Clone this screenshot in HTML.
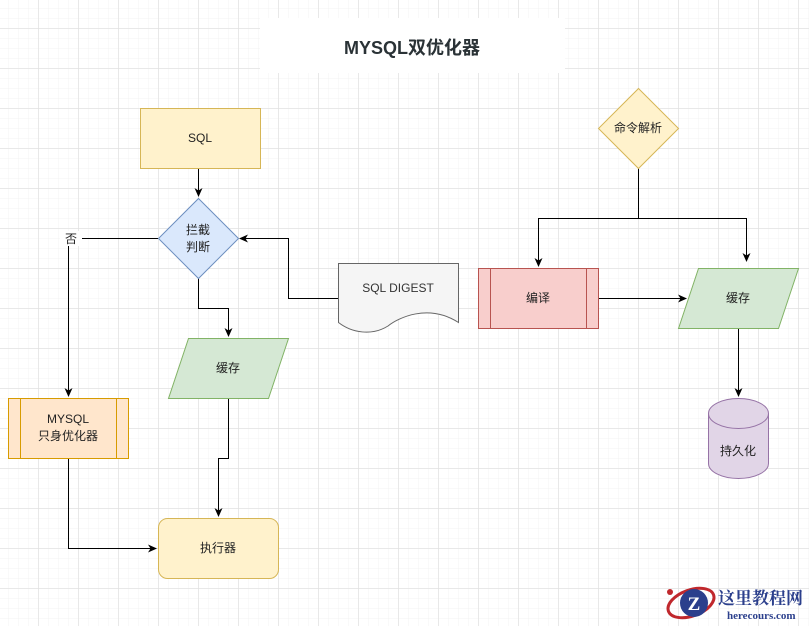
<!DOCTYPE html>
<html><head><meta charset="utf-8"><style>
body{margin:0;width:809px;height:626px;overflow:hidden;background:#fff;}
svg text{font-family:"Liberation Sans","Noto Sans CJK SC",sans-serif;font-size:12px;fill:#222;}
</style></head><body>
<svg width="809" height="626" xmlns="http://www.w3.org/2000/svg">
<defs>
<pattern id="minor" width="10" height="10" patternUnits="userSpaceOnUse" x="8" y="8">
<path d="M0 0H10M0 0V10" stroke="#f3f3f3" stroke-width="1" fill="none"/></pattern>
<pattern id="major" width="40" height="40" patternUnits="userSpaceOnUse" x="38.5" y="28.5">
<path d="M0 0H40M0 0V40" stroke="#dedede" stroke-width="1" fill="none"/></pattern>
<marker id="a" markerWidth="10" markerHeight="10" refX="8" refY="5" orient="auto" markerUnits="userSpaceOnUse">
<path d="M0 1L9 5L0 9L2.5 5Z" fill="#000"/></marker>
</defs>
<rect width="809" height="626" fill="url(#minor)"/>
<rect width="809" height="626" fill="url(#major)"/>
<rect x="260" y="18" width="305" height="55" fill="#fff"/>
<text x="412" y="54" text-anchor="middle" style="font-size:18px;font-weight:bold;fill:#2a3236">MYSQL双优化器</text>

<g fill="none" stroke="#000" stroke-width="1">
<path d="M198.5 168V196" marker-end="url(#a)"/>
<path d="M158 238.5H68.5V396" marker-end="url(#a)"/>
<path d="M198.5 278V308.5H228.5V336" marker-end="url(#a)"/>
<path d="M228.5 398V458.5H218.5V516" marker-end="url(#a)"/>
<path d="M68.5 458V548.5H156" marker-end="url(#a)"/>
<path d="M338 298.5H288.5V238.5H240" marker-end="url(#a)"/>
<path d="M638.5 168V218.5H538.5V266" marker-end="url(#a)"/>
<path d="M638.5 218.5H746.5V261" marker-end="url(#a)"/>
<path d="M598 298.5H686" marker-end="url(#a)"/>
<path d="M738.5 328V396" marker-end="url(#a)"/>
</g>
<rect x="60" y="231" width="22" height="15" fill="#fff"/>
<text x="71" y="243" text-anchor="middle">否</text>

<rect x="140.5" y="108.5" width="120" height="60" fill="#fff2cc" stroke="#d6b656"/>
<text x="200" y="142" text-anchor="middle">SQL</text>

<path d="M198.5 198.5L238.5 238.5L198.5 278.5L158.5 238.5Z" fill="#dae8fc" stroke="#6c8ebf"/>
<text x="198" y="234" text-anchor="middle">拦截</text>
<text x="198" y="251" text-anchor="middle">判断</text>

<path d="M188.5 338.5H288.5L268.5 398.5H168.5Z" fill="#d5e8d4" stroke="#82b366"/>
<text x="228" y="372" text-anchor="middle">缓存</text>

<rect x="8.5" y="398.5" width="120" height="60" fill="#ffe6cc" stroke="#d79b00"/>
<path d="M20.5 398.5V458.5M116.5 398.5V458.5" stroke="#d79b00"/>
<text x="68" y="423" text-anchor="middle">MYSQL</text>
<text x="68" y="440" text-anchor="middle">只身优化器</text>

<rect x="158.5" y="518.5" width="120" height="60" rx="9" fill="#fff2cc" stroke="#d6b656"/>
<text x="218" y="552" text-anchor="middle">执行器</text>

<path d="M338.5 263.5H458.5V322.5C428 303 398 318 388 326C372 336 352 333 338.5 322.5Z" fill="#f5f5f5" stroke="#666"/>
<text x="398" y="292" text-anchor="middle" style="fill:#333">SQL DIGEST</text>

<path d="M638.5 88.5L678.5 128.5L638.5 168.5L598.5 128.5Z" fill="#fff2cc" stroke="#d6b656"/>
<text x="638" y="132" text-anchor="middle">命令解析</text>

<rect x="478.5" y="268.5" width="120" height="60" fill="#f8cecc" stroke="#b85450"/>
<path d="M490.5 268.5V328.5M586.5 268.5V328.5" stroke="#b85450"/>
<text x="538" y="302" text-anchor="middle">编译</text>

<path d="M698.5 268.5H798.5L778.5 328.5H678.5Z" fill="#d5e8d4" stroke="#82b366"/>
<text x="738" y="302" text-anchor="middle">缓存</text>

<path d="M708.5 413.5A30 15 0 0 1 768.5 413.5V463.5A30 15 0 0 1 708.5 463.5Z" fill="#e1d5e7" stroke="#9673a6"/>
<path d="M708.5 413.5A30 15 0 0 0 768.5 413.5" fill="none" stroke="#9673a6"/>
<text x="738" y="455" text-anchor="middle">持久化</text>

<g>
<ellipse cx="691" cy="603" rx="24" ry="13" fill="none" stroke="#c0282d" stroke-width="3" transform="rotate(-20 691 603)"/>
<circle cx="694" cy="603" r="14" fill="#2b3f8c"/>
<text x="694" y="610" text-anchor="middle" style="font-size:19px;font-weight:bold;fill:#fff;font-family:'Liberation Serif',serif">Z</text>
<circle cx="670" cy="592" r="3" fill="#c0282d"/>
<text x="718" y="604" style="font-size:17px;font-weight:bold;fill:#2b3f8c;font-family:'Liberation Serif','Noto Serif CJK SC',serif">这里教程网</text>
<text x="727" y="619" style="font-size:11px;font-weight:bold;fill:#2b3f8c;font-family:'Liberation Serif',serif">herecours.com</text>
</g>
</svg>
</body></html>
